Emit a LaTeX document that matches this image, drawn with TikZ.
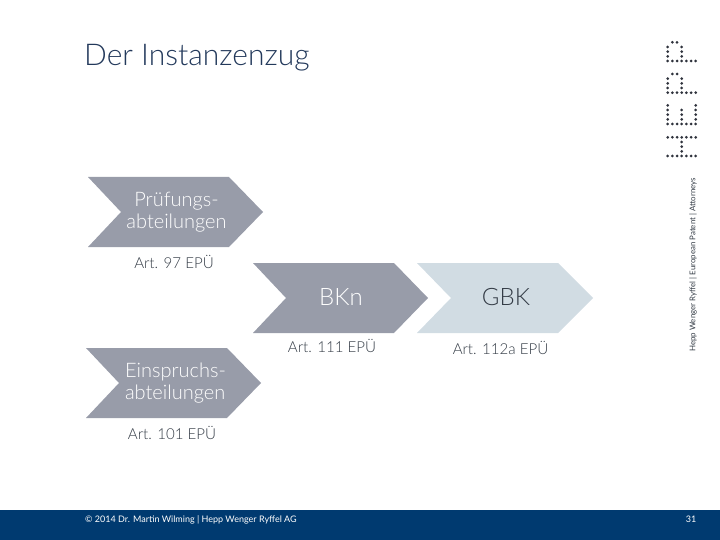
\documentclass[tikz,border=0pt]{standalone}
\usepackage{fontspec}
\setmainfont{Lato Light}
\newfontfamily\regfont{Lato}
\definecolor{chevgrey}{HTML}{989CA9}
\definecolor{chevlight}{HTML}{D1DCE3}
\definecolor{barblue}{HTML}{003A70}
\definecolor{titleblue}{HTML}{23395B}
\definecolor{txtdark}{HTML}{333B45}
\definecolor{logoink}{HTML}{2E323C}
\tikzset{
  chevtext/.style={align=center,font=\fontsize{20}{22}\selectfont,text=white,inner sep=0pt},
  bigtext/.style={inner sep=0pt,font=\fontsize{24}{26}\selectfont,text=white},
  reftext/.style={font=\fontsize{15.1}{17}\selectfont,text=txtdark,inner sep=0pt},
  logodot/.style={circle,fill=logoink,minimum size=3pt,inner sep=0pt},
}
\begin{document}
\begin{tikzpicture}[x=1pt,y=-1pt]
\useasboundingbox (0,0) rectangle (720,540);
\fill[barblue] (0,510) rectangle (720,540);
\node[anchor=west,inner sep=0pt,font=\fontsize{30}{32}\selectfont,text=titleblue] (title) at (84,57.5) {Der Instanzenzug};
% chevrons
\fill[chevgrey] (88,177) -- (229,177) -- (263,212) -- (229,247) -- (88,247) -- (121,212) -- cycle;
\fill[chevgrey] (253,263) -- (394,263) -- (428,298) -- (394,333) -- (253,333) -- (286,298) -- cycle;
\fill[chevlight] (417,263) -- (558,263) -- (593,298) -- (558,333) -- (417,333) -- (451,298) -- cycle;
\fill[chevgrey] (86,348) -- (227,348) -- (261,383) -- (227,418) -- (86,418) -- (119,383) -- cycle;
\node[chevtext] (pruef) at (176.5,212) {Prüfungs-\\abteilungen};
\node[bigtext] (bkn) at (341,297) {BKn};
\node[bigtext,text=txtdark] (gbk) at (506,297) {GBK};
\node[chevtext,align=left] (einspr) at (175.5,383) {Einspruchs-\\abteilungen};
\node[reftext] (r97) at (174,262) {Art. 97 EPÜ};
\node[reftext] (r111) at (332,346) {Art. 111 EPÜ};
\node[reftext] (r112) at (500.5,347.5) {Art. 112a EPÜ};
\node[reftext] (r101) at (172,432.5) {Art. 101 EPÜ};
\node[anchor=west,inner sep=0pt,font=\regfont\fontsize{9}{10}\selectfont,text=white] (foot) at (85,519.5) {© 2014 Dr. Martin Wilming | Hepp Wenger Ryffel AG};
\node[inner sep=0pt,font=\regfont\fontsize{9}{10}\selectfont,text=white] (page) at (691,519.5) {31};
\node[rotate=90,anchor=west,inner sep=0pt,font=\regfont\fontsize{7.9}{10}\selectfont,text=txtdark] (tag) at (693,352) {Hepp Wenger Ryffel | European Patent | Attorneys};
% logo: stems
\foreach \c in {0,...,6} {
  \node[logodot] at ({667.7+\c*4.67},137.3) {};
  \node[logodot] at ({667.7+\c*4.67},156) {};
  \node[logodot] at ({667.7+\c*4.67},124) {};
  \node[logodot] at ({667.7+\c*4.67},92.7) {};
  \node[logodot] at ({667.7+\c*4.67},61) {};
}
% H crossbar
\foreach \r in {142,146.7,151.3} \node[logodot] at (681.7,\r) {};
% E arms
\foreach \r in {105.3,110,114.7,119.3} {\node[logodot] at (667.7,\r) {}; \node[logodot] at (695.7,\r) {};}
\foreach \r in {110,114.7,119.3} \node[logodot] at (681.7,\r) {};
% P bowls
\foreach \r in {88,83.3,78.7} {\node[logodot] at (667.7,\r) {}; \node[logodot] at (681.7,\r) {};}
\foreach \r in {56.3,51.7,47} {\node[logodot] at (667.7,\r) {}; \node[logodot] at (681.7,\r) {};}
\foreach \c in {672.4,677} {\node[logodot] at (\c,74) {}; \node[logodot] at (\c,42.3) {};}
\end{tikzpicture}
\end{document}
